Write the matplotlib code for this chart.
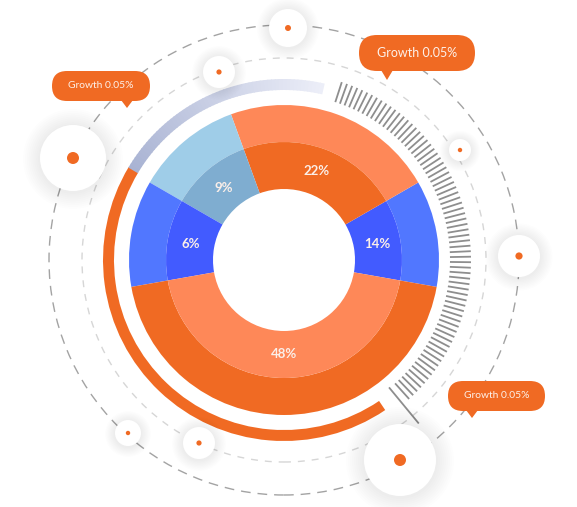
import numpy as np
import matplotlib
matplotlib.use('Agg')
import matplotlib.pyplot as plt
from matplotlib.patches import Wedge, Circle, FancyBboxPatch, Polygon
from matplotlib.collections import LineCollection

W, H = 577, 507
plt.rcParams['font.family'] = ['Lato', 'DejaVu Sans']

# data: slice sizes and the labels shown on them
values = [10, 20, 10, 10, 40]
labels = ['14%', '22%', '9%', '6%', '48%']
outer_colors = ['#5177ff', '#fe8858', '#9fcde8', '#5177ff', '#f06a23']
inner_colors = ['#425bff', '#f06a23', '#7fadd0', '#425bff', '#fe8858']

callout_text = ['Growth 0.05%', 'Growth 0.05%', 'Growth 0.05%']

ORANGE = '#f06a23'
cx, cy = 284, H - 260


def up(y):
    return H - y


fig = plt.figure(figsize=(W / 100, H / 100), dpi=100)
ax = fig.add_axes([0, 0, 1, 1])

# dashed guide circles
ax.add_patch(Circle((cx, cy), 235, fill=False, ec='#a3a3a3', lw=1.0,
                    ls=(0, (7, 5)), zorder=1))
ax.add_patch(Circle((cx, cy), 202, fill=False, ec='#d6d6d6', lw=1.0,
                    ls=(0, (5, 5)), zorder=1))

# donut: outer ring + inner ring with labels
ax.pie(values, radius=155, center=(cx, cy), startangle=-10, counterclock=True,
       colors=outer_colors, wedgeprops=dict(width=37, linewidth=0))
ax.pie(values, radius=118, center=(cx, cy), startangle=-10, counterclock=True,
       colors=inner_colors, wedgeprops=dict(width=47, linewidth=0),
       labels=labels, labeldistance=0.8,
       textprops=dict(color='#fbefe9', fontsize=9.5, fontweight='bold',
                      ha='center', va='center'))

# orange arc
ax.add_patch(Wedge((cx, cy), 181, 149, 304, width=11, fc=ORANGE, ec='none', zorder=3))

# gradient arc (grey-blue fading out)
c0 = np.array([0xa9, 0xb3, 0xd3]) / 255
c1 = np.array([0xec, 0xee, 0xf8]) / 255
n = 60
edges = np.linspace(149, 77, n + 1)
for i in range(n):
    t = i / (n - 1)
    ax.add_patch(Wedge((cx, cy), 181, edges[i + 1], edges[i] + 0.3, width=11,
                       fc=c0 * (1 - t) + c1 * t, ec='none', zorder=3))

# tick marks on the right
ang = np.deg2rad(np.linspace(72, -48, 72))
segs = [[(cx + 166 * np.cos(t), cy + 166 * np.sin(t)),
         (cx + 187 * np.cos(t), cy + 187 * np.sin(t))] for t in ang]
ax.add_collection(LineCollection(segs, colors='#8e8e8e', linewidths=1.3, zorder=3))
t_last = np.deg2rad(-50.5)
ax.plot([cx + 166 * np.cos(t_last), cx + 211 * np.cos(t_last)],
        [cy + 166 * np.sin(t_last), cy + 211 * np.sin(t_last)],
        color='#8e8e8e', lw=1.3, zorder=3)

# white dots with soft shadows
dots = [(288, 28, 19, 3), (219, 72, 16, 2.6), (73, 158, 33, 6),
        (460, 150, 11, 2.2), (519, 256, 21, 3.6), (400, 460, 36, 6),
        (199, 443, 16, 2.6), (128, 433, 13, 2.2)]
for x, y, r, rd in dots:
    for k in range(1, 10):
        ax.add_patch(Circle((x, up(y) - 1), r + k * (0.35 * r / 9 + 0.6), fc='#000000',
                            alpha=0.008, ec='none', zorder=4))
    ax.add_patch(Circle((x, up(y)), r, fc='white', ec='none', zorder=5))
    ax.add_patch(Circle((x, up(y)), rd, fc=ORANGE, ec='none', zorder=6))

# callouts: box (x0, x1, y0, y1), pointer x, pointer tip y, font size
boxes = [(359, 475, 35, 71, 387, 80, 9.0),
         (52, 150, 71, 101, 127, 108, 7.4),
         (448, 545, 381, 411, 472, 418, 7.4)]
for (x0, x1, y0, y1, px, py, fs), txt in zip(boxes, callout_text):
    h = y1 - y0
    ax.add_patch(FancyBboxPatch((x0, up(y1)), x1 - x0, h,
                                boxstyle=f'round,pad=0,rounding_size={h / 2 - 0.01}',
                                fc=ORANGE, ec='none', zorder=7))
    ax.add_patch(Polygon([(px - 6, up(y1) + 1), (px + 6, up(y1) + 1), (px, up(py))],
                         fc=ORANGE, ec='none', zorder=7))
    ax.text((x0 + x1) / 2, up((y0 + y1) / 2), txt, color='#fdf1ea', fontsize=fs,
            ha='center', va='center', zorder=8)

ax.set_xlim(0, W)
ax.set_ylim(0, H)
ax.set_aspect('equal')
ax.axis('off')

plt.savefig('out.png', dpi=100)
